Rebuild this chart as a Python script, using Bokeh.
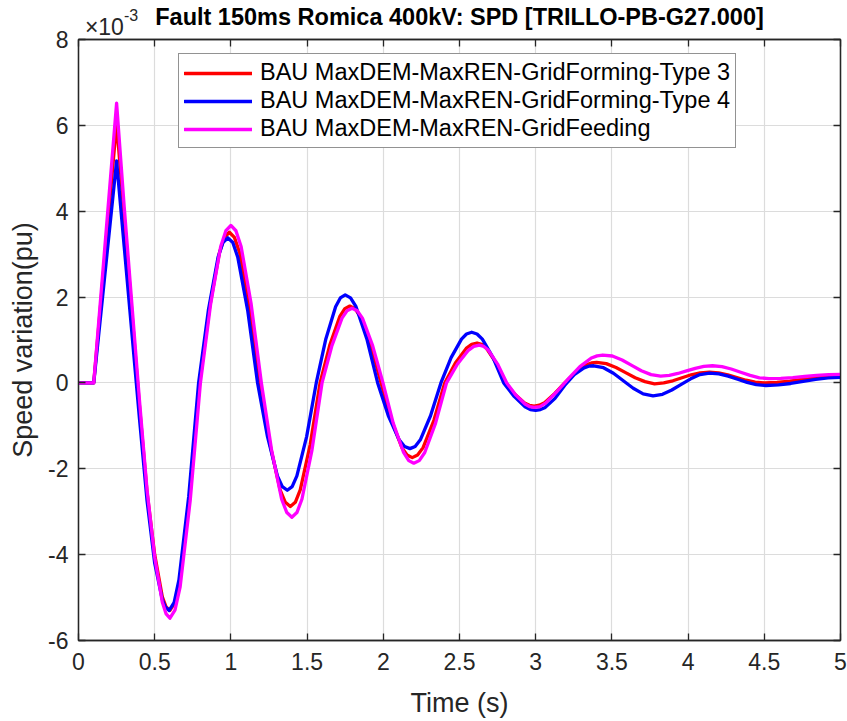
from bokeh.plotting import figure
from bokeh.models import Range1d, LinearAxis, FixedTicker, Legend, LegendItem
from bokeh.embed import file_html
from bokeh.resources import INLINE

# ---- data (speed variation in units of 1e-3 pu) ----
t_type3 = [0, 0.1, 0.25, 0.30, 0.35, 0.40, 0.45, 0.50, 0.55, 0.575, 0.60,
           0.6325, 0.665, 0.73, 0.795, 0.86, 0.925, 0.9575, 0.99,
           1.023, 1.057, 1.123, 1.19, 1.257, 1.323, 1.357, 1.39,
           1.4225, 1.455, 1.52, 1.585, 1.65, 1.715, 1.7475, 1.78,
           1.814, 1.848, 1.917, 1.985, 2.053, 2.122, 2.156, 2.19,
           2.225, 2.261, 2.332, 2.403, 2.473, 2.544, 2.58, 2.615,
           2.646, 2.677, 2.74, 2.803, 2.865, 2.927, 2.959, 2.99,
           3.024, 3.058, 3.127, 3.195, 3.263, 3.332, 3.366, 3.40,
           3.463, 3.527, 3.59, 3.653, 3.717, 3.78,
           3.84, 3.90, 3.96, 4.02, 4.08, 4.14,
           4.20, 4.26, 4.32, 4.38, 4.44, 4.50,
           4.583, 4.667, 4.75, 4.833, 4.917, 5.0]
v_type3 = [0, 0, 6.05, 3.86, 1.66, -0.53, -2.55, -4.0, -4.98, -5.22, -5.30,
           -5.12, -4.59, -2.65, 0, 1.755, 3.04, 3.39, 3.51,
           3.39, 3.04, 1.755, 0, -1.44, -2.49, -2.78, -2.88,
           -2.78, -2.49, -1.44, 0, 0.895, 1.55, 1.73, 1.79,
           1.73, 1.55, 0.895, 0, -0.87, -1.507, -1.68, -1.74,
           -1.68, -1.507, -0.87, 0, 0.465, 0.805, 0.90, 0.93,
           0.90, 0.805, 0.465, 0, -0.27, -0.468, -0.52, -0.54,
           -0.52, -0.46, -0.24, 0.02, 0.25, 0.42, 0.465, 0.48,
           0.45, 0.36, 0.24, 0.12, 0.03, -0.02,
           0.0, 0.05, 0.12, 0.19, 0.235, 0.25,
           0.233, 0.188, 0.125, 0.063, 0.017, 0.0,
           0.011, 0.043, 0.085, 0.128, 0.159, 0.17]

t_type4 = [0, 0.1, 0.25, 0.30, 0.35, 0.40, 0.45, 0.50, 0.55, 0.57, 0.595,
           0.627, 0.659, 0.723, 0.788, 0.852, 0.916, 0.948, 0.98,
           1.0125, 1.045, 1.11, 1.175, 1.24, 1.305, 1.3375, 1.37,
           1.402, 1.433, 1.497, 1.56, 1.623, 1.687, 1.718, 1.75,
           1.785, 1.821, 1.892, 1.963, 2.033, 2.104, 2.14, 2.175,
           2.209, 2.243, 2.31, 2.378, 2.445, 2.513, 2.546, 2.58,
           2.615, 2.65, 2.72, 2.79, 2.86, 2.93, 2.965, 3.00,
           3.031, 3.063, 3.127, 3.19, 3.253, 3.317, 3.348, 3.38,
           3.445, 3.51, 3.575, 3.64, 3.705, 3.77,
           3.832, 3.893, 3.955, 4.017, 4.078, 4.14,
           4.202, 4.263, 4.325, 4.387, 4.448, 4.51,
           4.592, 4.673, 4.755, 4.837, 4.918, 5.0]
v_type4 = [0, 0, 5.17, 3.17, 1.17, -0.83, -2.75, -4.2, -5.05, -5.22, -5.30,
           -5.12, -4.59, -2.65, 0, 1.69, 2.93, 3.27, 3.38,
           3.27, 2.93, 1.69, 0, -1.25, -2.165, -2.415, -2.50,
           -2.415, -2.165, -1.25, 0, 1.025, 1.775, 1.98, 2.05,
           1.98, 1.775, 1.025, 0, -0.765, -1.325, -1.48, -1.53,
           -1.48, -1.325, -0.765, 0, 0.59, 1.02, 1.14, 1.18,
           1.14, 1.02, 0.59, 0, -0.32, -0.554, -0.62, -0.64,
           -0.62, -0.57, -0.36, -0.06, 0.19, 0.35, 0.39, 0.40,
           0.354, 0.225, 0.05, -0.125, -0.254, -0.30,
           -0.265, -0.165, -0.035, 0.095, 0.195, 0.23,
           0.21, 0.158, 0.085, 0.013, -0.04, -0.06,
           -0.047, -0.013, 0.035, 0.083, 0.117, 0.13]

t_feed = [0, 0.1, 0.25, 0.30, 0.35, 0.40, 0.45, 0.50, 0.55, 0.575, 0.60,
          0.633, 0.667, 0.733, 0.80, 0.867, 0.933, 0.967, 1.00,
          1.033, 1.067, 1.133, 1.20, 1.267, 1.333, 1.367, 1.40,
          1.433, 1.466, 1.532, 1.598, 1.663, 1.729, 1.762, 1.795,
          1.829, 1.863, 1.93, 1.998, 2.065, 2.133, 2.167, 2.20,
          2.236, 2.272, 2.343, 2.415, 2.487, 2.558, 2.594, 2.63,
          2.66, 2.69, 2.75, 2.81, 2.87, 2.93, 2.96, 2.99,
          3.028, 3.065, 3.14, 3.215, 3.29, 3.365, 3.403, 3.44,
          3.503, 3.567, 3.63, 3.693, 3.757, 3.82,
          3.877, 3.933, 3.99, 4.047, 4.103, 4.16,
          4.222, 4.283, 4.345, 4.407, 4.468, 4.53,
          4.608, 4.687, 4.765, 4.843, 4.922, 5.0]
v_feed = [0, 0, 6.52, 4.1, 1.85, -0.4, -2.5, -4.06, -5.11, -5.38, -5.48,
          -5.29, -4.75, -2.74, 0, 1.835, 3.18, 3.545, 3.67,
          3.545, 3.18, 1.835, 0, -1.565, -2.71, -3.02, -3.13,
          -3.02, -2.71, -1.565, 0, 0.87, 1.51, 1.68, 1.74,
          1.68, 1.51, 0.87, 0, -0.935, -1.62, -1.81, -1.87,
          -1.81, -1.62, -0.935, 0, 0.44, 0.76, 0.85, 0.88,
          0.85, 0.76, 0.44, 0, -0.285, -0.49, -0.55, -0.57,
          -0.55, -0.47, -0.2, 0.1, 0.38, 0.58, 0.63, 0.65,
          0.627, 0.535, 0.41, 0.285, 0.193, 0.16,
          0.176, 0.22, 0.28, 0.34, 0.384, 0.40,
          0.38, 0.325, 0.25, 0.175, 0.12, 0.10,
          0.107, 0.125, 0.15, 0.175, 0.193, 0.20]

series_names = ["BAU MaxDEM-MaxREN-GridForming-Type 3",
                "BAU MaxDEM-MaxREN-GridForming-Type 4",
                "BAU MaxDEM-MaxREN-GridFeeding"]
series_colors = ["#ff0000", "#0000ff", "#ff00ff"]

x_ticks = [0, 0.5, 1, 1.5, 2, 2.5, 3, 3.5, 4, 4.5, 5]
x_tick_labels = ["0", "0.5", "1", "1.5", "2", "2.5", "3", "3.5", "4", "4.5", "5"]
y_ticks = [-6, -4, -2, 0, 2, 4, 6, 8]
y_tick_labels = ["-6", "-4", "-2", "0", "2", "4", "6", "8"]

title_text = "Fault 150ms Romica 400kV: SPD [TRILLO-PB-G27.000]"
x_label = "Time (s)"
y_label = "Speed variation(pu)"
exponent_base = "\u00d710"
exponent_base_at = 0.17
exponent_power = "-3"
exponent_power_at = 0.345

FONT = "Liberation Sans"
AX = "#262626"

p = figure(width=847, height=721,
           x_range=Range1d(0, 5), y_range=Range1d(-6, 8),
           output_backend="svg", toolbar_location=None,
           min_border_left=78, min_border_right=7,
           min_border_top=38, min_border_bottom=81)
p.background_fill_color = "white"
p.border_fill_color = "white"
p.outline_line_color = AX
p.outline_line_width = 1.3

xa = p.xaxis[0]
ya = p.yaxis[0]
xa.ticker = FixedTicker(ticks=x_ticks)
ya.ticker = FixedTicker(ticks=y_ticks)
xa.major_label_overrides = {t: s for t, s in zip(x_ticks, x_tick_labels)}
ya.major_label_overrides = {t: s for t, s in zip(y_ticks, y_tick_labels)}
xa.axis_label = x_label
ya.axis_label = y_label
for ax in (xa, ya):
    ax.axis_line_color = AX
    ax.axis_line_width = 1.3
    ax.major_tick_in = 7
    ax.major_tick_out = 0
    ax.major_tick_line_color = AX
    ax.major_tick_line_width = 1.3
    ax.minor_tick_line_color = None
    ax.major_label_text_font = FONT
    ax.major_label_text_font_size = "23px"
    ax.major_label_text_color = AX
    ax.axis_label_text_font = FONT
    ax.axis_label_text_font_size = "27px"
    ax.axis_label_text_font_style = "normal"
    ax.axis_label_text_color = AX
xa.major_label_standoff = 12
ya.major_label_standoff = 10
xa.axis_label_standoff = 15
ya.axis_label_standoff = 7

# top axis: tick marks (as minor ticks), "x10" as its only tick label, title as its axis label
top = LinearAxis(ticker=FixedTicker(ticks=[exponent_base_at], minor_ticks=x_ticks))
top.major_label_overrides = {exponent_base_at: exponent_base}
top.axis_line_color = AX
top.axis_line_width = 1.3
top.major_tick_line_color = None
top.major_tick_in = 0
top.major_tick_out = 0
top.minor_tick_in = 7
top.minor_tick_out = 0
top.minor_tick_line_color = AX
top.minor_tick_line_width = 1.3
top.major_label_standoff = 0
top.major_label_text_font = FONT
top.major_label_text_font_size = "23px"
top.major_label_text_color = AX
top.axis_label = title_text
top.axis_label_text_font = FONT
top.axis_label_text_font_size = "23.5px"
top.axis_label_text_font_style = "bold"
top.axis_label_text_color = "black"
top.axis_label_standoff = -19
p.add_layout(top, "above")

# second top axis (no line, no ticks) that only carries the raised power "-3"
top2 = LinearAxis(ticker=FixedTicker(ticks=[exponent_power_at]))
top2.major_label_overrides = {exponent_power_at: exponent_power}
top2.axis_line_color = None
top2.major_tick_line_color = None
top2.minor_tick_line_color = None
top2.major_tick_in = 0
top2.major_tick_out = 0
top2.major_label_text_font = FONT
top2.major_label_text_font_size = "16px"
top2.major_label_text_color = AX
top2.major_label_standoff = -20
p.add_layout(top2, "above")

right = LinearAxis(ticker=FixedTicker(ticks=y_ticks))
right.axis_line_color = AX
right.axis_line_width = 1.3
right.major_tick_in = 7
right.major_tick_out = 0
right.major_tick_line_color = AX
right.major_tick_line_width = 1.3
right.minor_tick_line_color = None
right.major_label_text_font_size = "1px"
right.major_label_text_alpha = 0
right.major_label_standoff = 0
p.add_layout(right, "right")

p.xgrid.grid_line_color = "#dcdcdc"
p.ygrid.grid_line_color = "#dcdcdc"
p.xgrid.grid_line_width = 1.2
p.ygrid.grid_line_width = 1.2

renderers = []
for tt, vv, c in ((t_type3, v_type3, series_colors[0]),
                  (t_type4, v_type4, series_colors[1]),
                  (t_feed, v_feed, series_colors[2])):
    r = p.line(tt, vv, line_color=c, line_width=3.3, line_join="round", line_cap="round")
    renderers.append(r)

legend = Legend(items=[LegendItem(label=n, renderers=[r]) for n, r in zip(series_names, renderers)],
                location=(100, 492))
legend.label_text_font = FONT
legend.label_text_font_size = "23.5px"
legend.label_text_color = "black"
legend.border_line_color = AX
legend.border_line_width = 1.2
legend.background_fill_color = "white"
legend.background_fill_alpha = 1
legend.glyph_width = 68
legend.glyph_height = 24
legend.label_height = 24
legend.label_standoff = 8
legend.spacing = 1
legend.padding = 5
legend.margin = 0
p.add_layout(legend, "center")

open("out.html", "w").write(file_html(p, INLINE))
